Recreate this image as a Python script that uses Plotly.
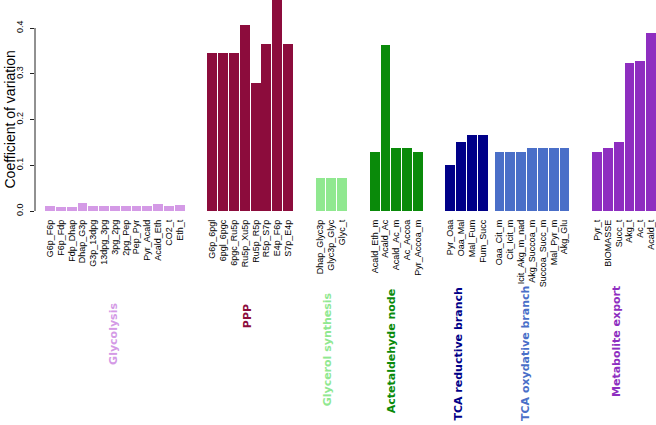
import plotly.graph_objects as go

# ---------------- data ----------------
glycolysis_labels = ["G6p_F6p", "F6p_Fdp", "Fdp_Dhap", "Dhap_G3p", "G3p_13dpg", "13dpg_3pg",
                     "3pg_2pg", "2pg_Pep", "Pep_Pyr", "Pyr_Acald", "Acald_Eth", "CO2_t", "Eth_t"]
glycolysis_values = [0.011, 0.008, 0.008, 0.017, 0.010, 0.010, 0.010, 0.010, 0.010, 0.012, 0.015, 0.010, 0.013]

ppp_labels = ["G6p_6pgl", "6pgl_6pgc", "6pgc_Ru5p", "Ru5p_Xu5p", "Ru5p_R5p", "R5p_S7p", "E4p_F6p", "S7p_E4p"]
ppp_values = [0.346, 0.346, 0.346, 0.407, 0.279, 0.366, 0.48, 0.366]

glycerol_labels = ["Dhap_Glyc3p", "Glyc3p_Glyc", "Glyc_t"]
glycerol_values = [0.072, 0.072, 0.072]

acetald_labels = ["Acald_Eth_m", "Acald_Ac", "Acald_Ac_m", "Ac_Accoa", "Pyr_Accoa_m"]
acetald_values = [0.130, 0.363, 0.137, 0.137, 0.130]

tca_red_labels = ["Pyr_Oaa", "Oaa_Mal", "Mal_Fum", "Fum_Succ"]
tca_red_values = [0.100, 0.151, 0.167, 0.167]

tca_ox_labels = ["Oaa_Cit_m", "Cit_Icit_m", "Icit_Akg_m_nad", "Akg_Succoa_m", "Succoa_Succ_m", "Mal_Pyr_m", "Akg_Glu"]
tca_ox_values = [0.128, 0.128, 0.128, 0.137, 0.137, 0.137, 0.137]

export_labels = ["Pyr_t", "BIOMASSE", "Succ_t", "Akg_t", "Ac_t", "Acald_t"]
export_values = [0.128, 0.137, 0.151, 0.3235, 0.327, 0.390]

group_names = ["Glycolysis", "PPP", "Glycerol synthesis", "Actetaldehyde node",
               "TCA reductive branch", "TCA oxydative branch", "Metabolite export"]

# ---------------- styling / layout ----------------
group_colors = ["#D49AE6", "#8C0C3C", "#90E890", "#0A8A0A", "#000088", "#4A6FC8", "#8E2EC0"]
group_gaps_after = [2.2, 2.2, 2.2, 2.2, 0.6, 2.2]
label_y_px = [334, 316, 349, 351, 354, 354, 342]
label_xshift_px = [-2, -3, -4, -5, -9, -7, -8]

groups = [
    (glycolysis_labels, glycolysis_values),
    (ppp_labels, ppp_values),
    (glycerol_labels, glycerol_values),
    (acetald_labels, acetald_values),
    (tca_red_labels, tca_red_values),
    (tca_ox_labels, tca_ox_values),
    (export_labels, export_values),
]

W, H = 656, 425
ML, MT, MB = 35, 0, 214
plot_h = H - MT - MB  # 211
Y_TOP = plot_h / 457.5

fig = go.Figure()
pos = 0.0
all_x, all_text, centers = [], [], []
for gi, (labs, vals) in enumerate(groups):
    xs = []
    for _ in labs:
        left = pos + 0.1
        xs.append(left + 0.5)
        pos = left + 1.0
    fig.add_trace(go.Bar(x=xs, y=vals, width=1.0, marker=dict(color=group_colors[gi], line=dict(width=0)),
                         showlegend=False, hoverinfo="x+y"))
    all_x += xs
    all_text += labs
    centers.append((xs[0] + xs[-1]) / 2)
    if gi < len(group_gaps_after):
        pos += group_gaps_after[gi]
x_max = pos

for gi, name in enumerate(group_names):
    fig.add_annotation(x=centers[gi], xref="x", y=(plot_h - label_y_px[gi]) / plot_h, yref="paper",
                       text="<b>" + name + "</b>", textangle=-90, showarrow=False,
                       xshift=label_xshift_px[gi], xanchor="center", yanchor="middle",
                       font=dict(family="DejaVu Sans", size=11, color=group_colors[gi]))

# y-axis title
fig.add_annotation(x=(9 - ML) / (W - ML), xref="paper", y=0.2, yref="y", text="Coefficient of variation",
                   textangle=-90, showarrow=False, xanchor="center", yanchor="middle",
                   font=dict(family="Liberation Sans", size=14, color="black"))

# y axis line (0 to 0.4 only)
fig.add_shape(type="line", xref="paper", x0=0, x1=0, yref="y", y0=0, y1=0.4,
              line=dict(color="#222222", width=1))

fig.update_layout(
    width=W, height=H, margin=dict(l=ML, r=0, t=MT, b=MB, pad=0, autoexpand=False),
    plot_bgcolor="white", paper_bgcolor="white", bargap=0,
    xaxis=dict(range=[-0.92, x_max], tickmode="array", tickvals=all_x, ticktext=all_text,
               tickangle=-90, ticks="", showline=False, showgrid=False, zeroline=False,
               ticklabelstandoff=6, automargin=False, ticklabeloverflow="allow",
               tickfont=dict(family="Liberation Sans", size=9, color="black")),
    yaxis=dict(range=[0, Y_TOP], tickmode="array", tickvals=[0, 0.1, 0.2, 0.3, 0.4],
               ticktext=["0.0", "0.1", "0.2", "0.3", "0.4"], tickangle=-90,
               ticks="outside", ticklen=4, tickcolor="#222222", showline=False, showgrid=False,
               zeroline=False, ticklabelstandoff=3, automargin=False,
               tickfont=dict(family="Liberation Sans", size=9, color="black")),
)

fig.write_html("out.html", config={"displayModeBar": False},
               post_script="document.body.style.margin='0';document.body.style.overflow='hidden';")
